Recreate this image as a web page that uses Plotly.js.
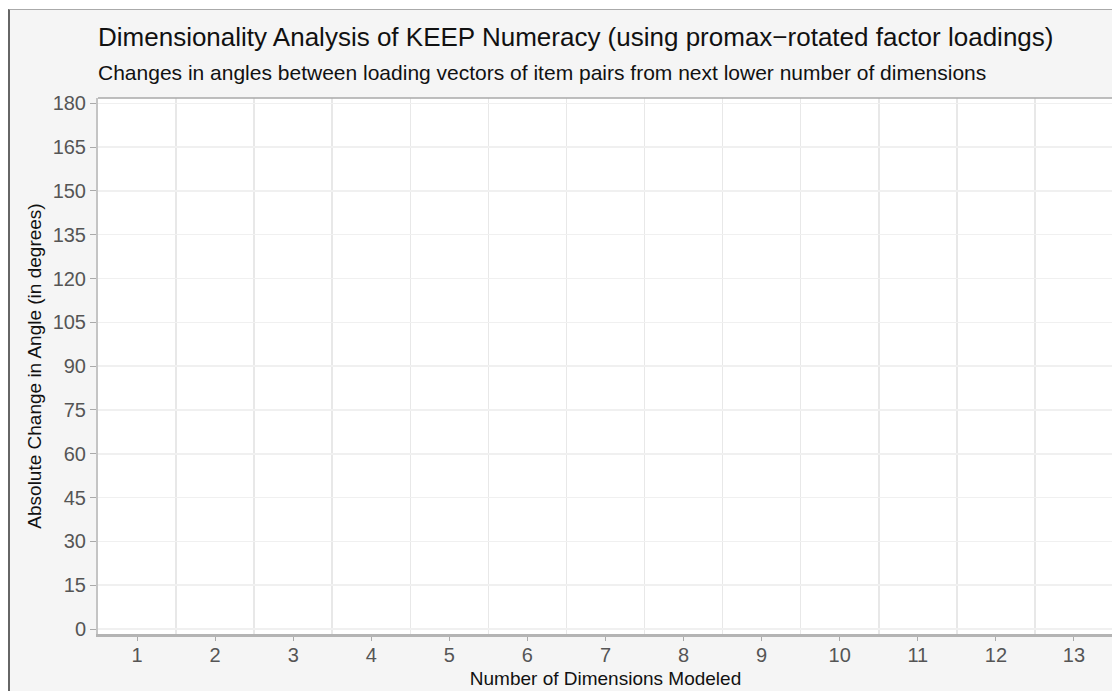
<!DOCTYPE html>
<html>
<head>
<meta charset="utf-8">
<script src="https://cdn.plot.ly/plotly-3.0.1.min.js"></script>
<style>
  html, body { margin: 0; padding: 0; background: #ffffff; overflow: hidden; }
  #frame {
    position: absolute; left: 8px; top: 9px;
    border-top: 1px solid #aaaaaa; border-left: 2px solid #666666;
    background: #f5f5f5;
  }
</style>
</head>
<body>
<div id="frame"><div id="chart"></div></div>
<script>
// number of dimensions modeled (x categories)
var dims = [1, 2, 3, 4, 5, 6, 7, 8, 9, 10, 11, 12, 13];
// absolute change in angle per dimension count -- nothing is plotted in the reference
var angleChange = [null, null, null, null, null, null, null, null, null, null, null, null, null];
var yTicks = [0, 15, 30, 45, 60, 75, 90, 105, 120, 135, 150, 165, 180];

var CHART = document.getElementById('chart');
var font = "'Liberation Sans', Arial, sans-serif";

var trace1 = {
  x: dims,
  y: angleChange,
  type: "scatter",
  mode: "markers",
  marker: {color: "#1f77b4", size: 6},
  showlegend: false,
  hoverinfo: "skip"
};

var layout = {
  width: 1123,
  height: 704,
  margin: {l: 88, r: 20, t: 88, b: 80},
  paper_bgcolor: "#f5f5f5",
  plot_bgcolor: "#ffffff",
  font: {family: font, color: "#222222"},
  title: {
    text: "Dimensionality Analysis of KEEP Numeracy (using promax\u2212rotated factor loadings)",
    font: {family: font, size: 26, color: "#111111"},
    x: 0, xref: "paper", xanchor: "left",
    y: 1 - 36 / 704, yref: "container", yanchor: "bottom",
    pad: {l: 0, t: 0, b: 0}
  },
  annotations: [{
    text: "Changes in angles between loading vectors of item pairs from next lower number of dimensions",
    xref: "paper", yref: "paper", x: 0, y: 1, xanchor: "left", yanchor: "bottom",
    yshift: 12, xshift: -2,
    showarrow: false,
    font: {family: font, size: 21, color: "#111111"}
  }],
  shapes: [{
    type: "line", xref: "paper", yref: "paper", x0: 0, x1: 1, y0: 1, y1: 1,
    line: {color: "#a8a8a8", width: 1.5}
  }],
  xaxis: {
    range: [0.5, 13.5],
    tickvals: dims,
    ticktext: dims.map(String),
    ticks: "outside", ticklen: 4, tickcolor: "#aaaaaa", tickwidth: 1,
    tickfont: {family: font, size: 20, color: "#555555"},
    ticklabelstandoff: -3,
    showgrid: false,
    minor: {tick0: 0.5, dtick: 1, showgrid: true, gridcolor: "#e8e8e8", gridwidth: 1.5, ticklen: 0},
    showline: true, linecolor: "#b4b4b4", linewidth: 2.5,
    zeroline: false,
    fixedrange: true,
    title: {text: "Number of Dimensions Modeled", font: {family: font, size: 19, color: "#111111"}, standoff: 7}
  },
  yaxis: {
    range: [-1.7, 181.8],
    tickvals: yTicks,
    ticks: "outside", ticklen: 6, tickcolor: "#aaaaaa", tickwidth: 1,
    tickfont: {family: font, size: 20, color: "#555555"},
    showgrid: true, gridcolor: "#f0f0f0", gridwidth: 1.5,
    showline: true, linecolor: "#c4c4c4", linewidth: 2,
    zeroline: false,
    fixedrange: true,
    title: {text: "Absolute Change in Angle (in degrees)", font: {family: font, size: 19, color: "#111111"}, standoff: 6}
  }
};

Plotly.newPlot(CHART, [trace1], layout, {displayModeBar: false, staticPlot: true});
</script>
</body>
</html>
